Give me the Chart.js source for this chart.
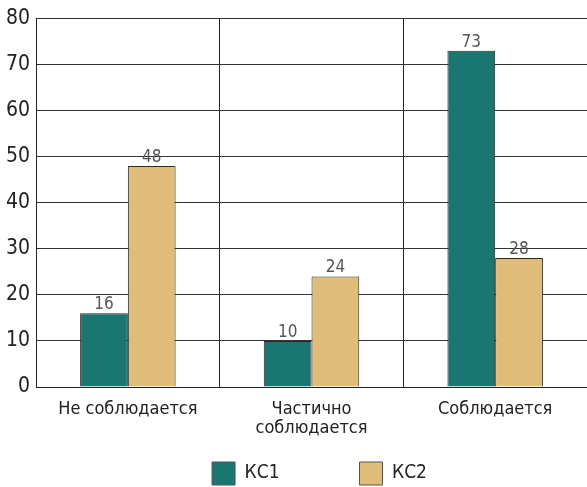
<!DOCTYPE html>
<html>
<head>
<meta charset="utf-8">
<script src="https://cdn.jsdelivr.net/npm/chart.js@4/dist/chart.umd.min.js"></script>
<style>
  html, body { margin: 0; padding: 0; background: #fff; }
  #wrap { width: 587px; height: 487px; position: relative; }
</style>
</head>
<body>
<div id="wrap"><canvas id="chart"></canvas></div>
<script>
const categories = ['Не соблюдается', ['Частично', 'соблюдается'], 'Соблюдается'];
const seriesNames = ['КС1', 'КС2'];
const ks1Values = [16, 10, 73];
const ks2Values = [48, 24, 28];
const yTicks = { min: 0, max: 80, step: 10 };

const FONT = '"DejaVu Sans Condensed", "Liberation Sans Narrow", sans-serif';

// draws the value above each bar
const valueLabels = {
    id: 'valueLabels',
    afterDatasetsDraw(chart) {
        const ctx = chart.ctx;
        ctx.save();
        ctx.font = '17px ' + FONT;
        ctx.fillStyle = '#555';
        ctx.textAlign = 'center';
        ctx.textBaseline = 'bottom';
        chart.data.datasets.forEach((ds, i) => {
            chart.getDatasetMeta(i).data.forEach((bar, j) => {
                ctx.fillText(ds.data[j], bar.x, bar.y);
            });
        });
        ctx.restore();
    }
};

// nudge the legend a bit right and down, like the original
const legendShift = {
    id: 'legendShift',
    afterUpdate(chart) {
        const lg = chart.legend;
        if (!lg) return;
        lg.left += 26; lg.right += 26;
        lg.top += 8; lg.bottom += 8;
        lg.adjustHitBoxes();
    }
};

new Chart(document.getElementById('chart'), {
    type: 'bar',
    data: {
        labels: categories,
        datasets: [{
            label: seriesNames[0],
            data: ks1Values,
            backgroundColor: '#1a7670',
            borderColor: '#2a2a2a',
            borderWidth: 1
        }, {
            label: seriesNames[1],
            data: ks2Values,
            backgroundColor: '#dfbd78',
            borderColor: '#2a2a2a',
            borderWidth: 1
        }]
    },
    options: {
        responsive: true,
        maintainAspectRatio: false,
        animation: false,
        layout: { padding: { top: 8, right: 0, left: 0, bottom: 0 } },
        plugins: {
            legend: {
                position: 'bottom',
                labels: {
                    boxWidth: 23,
                    boxHeight: 23,
                    padding: 4,
                    color: '#222',
                    font: { family: FONT, size: 19 },
                    generateLabels(chart) {
                        const items = Chart.defaults.plugins.legend.labels.generateLabels(chart);
                        // widen the first entry so the two keys sit far apart
                        items[0].text = items[0].text + '              ';
                        items.forEach(it => { it.lineWidth = 1; it.strokeStyle = '#555'; });
                        return items;
                    }
                }
            },
            tooltip: { enabled: false }
        },
        datasets: {
            bar: { categoryPercentage: 0.52, barPercentage: 1 }
        },
        scales: {
            x: {
                grid: { color: '#222', lineWidth: 1, drawTicks: false },
                border: { color: '#222' },
                afterFit(scale) { scale.height = 63; },
                ticks: {
                    color: '#222',
                    padding: 12,
                    font: { family: FONT, size: 18, lineHeight: 1.1 }
                }
            },
            y: {
                min: yTicks.min,
                max: yTicks.max,
                grid: { color: '#333', lineWidth: 1, drawTicks: false },
                border: { color: '#222' },
                ticks: {
                    stepSize: yTicks.step,
                    color: '#222',
                    padding: 6,
                    font: { family: FONT, size: 21 }
                }
            }
        }
    },
    plugins: [valueLabels, legendShift]
});
</script>
</body>
</html>
